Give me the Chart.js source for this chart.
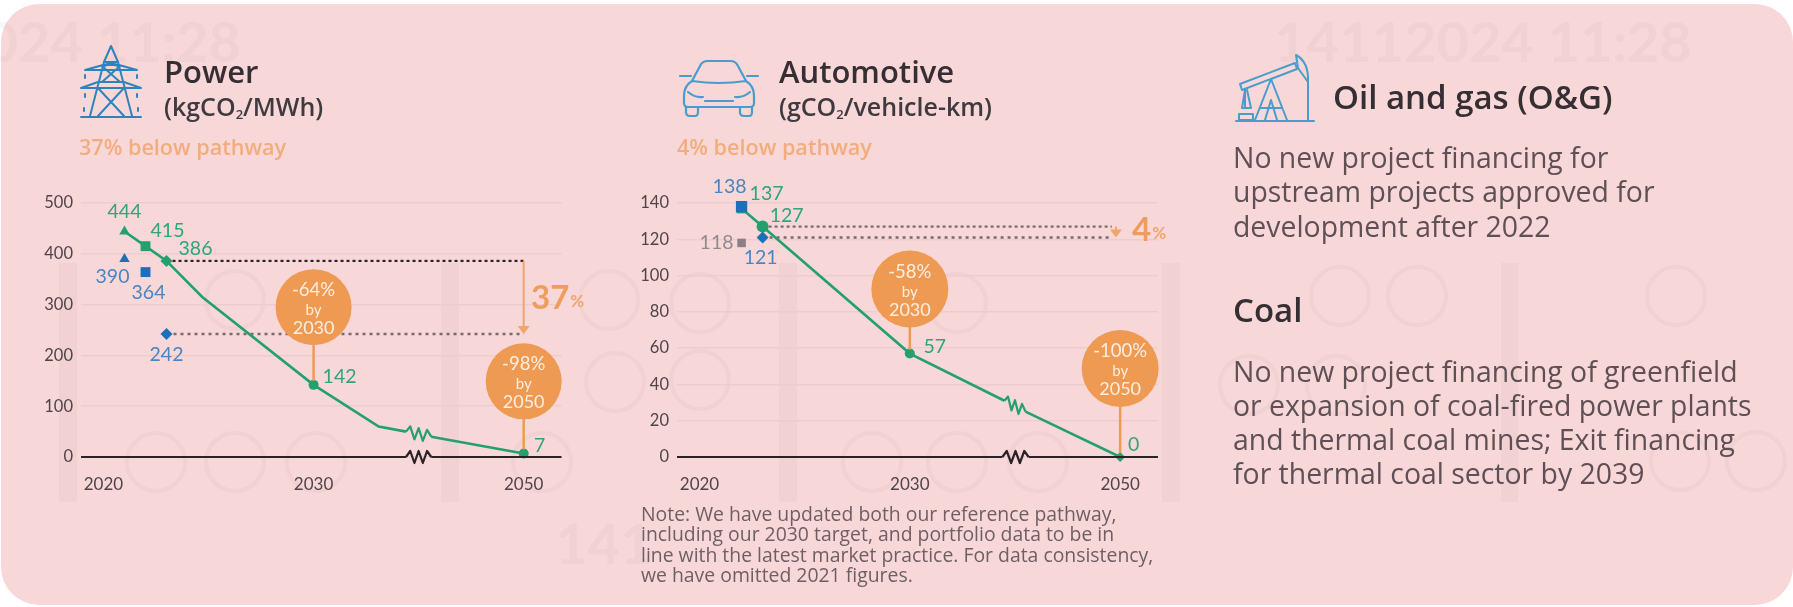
<!DOCTYPE html>
<html>
<head>
<meta charset="utf-8">
<title>Power and automotive pathways</title>
<script src="https://cdn.jsdelivr.net/npm/chart.js@4"></script>
<style>
html,body{margin:0;padding:0;background:#fff;}
body{width:1793px;height:607px;overflow:hidden;position:relative;font-family:"Open Sans",Lato,sans-serif;}
#card{position:absolute;left:1px;top:4px;width:1792px;height:601px;background:#f8d7d9;border-radius:38px;}
svg.layer{position:absolute;left:0;top:0;}
canvas{position:absolute;top:170px;}
.t{position:absolute;white-space:nowrap;transform:translateY(-50%);line-height:1;}
.head{color:#352e33;font-weight:600;font-size:31px;}
.unit{color:#3f3a40;font-weight:600;font-size:25px;}
.unit sub{font-size:13px;line-height:0;vertical-align:-3px;}
.below{color:#f1ad7d;font-weight:600;font-size:21.6px;}
.body{color:#5e5055;font-size:28.4px;}
.note{color:#6e5f63;font-size:19.4px;}
</style>
</head>
<body>
<div id="card"></div>

<!-- faint watermark behind everything -->
<svg class="layer" width="1793" height="607" fill="none" stroke="#7d6468" stroke-opacity="0.05" stroke-width="4">
  <g stroke="none" fill="#7d6468" fill-opacity="0.05">
    <rect x="59" y="263" width="18" height="239"/>
    <rect x="441" y="263" width="18" height="239"/>
    <rect x="779" y="263" width="18" height="239"/>
    <rect x="1162" y="263" width="18" height="239"/>
    <rect x="1501" y="263" width="17" height="239"/>
    <text x="241" y="62" text-anchor="end" font-family="Lato" font-weight="700" font-size="56">024 11:28</text>
    <text x="1274" y="62" font-family="Lato" font-weight="700" font-size="56">14112024 11:28</text>
    <text x="555" y="564" font-family="Lato" font-weight="700" font-size="56">141</text>
  </g>
  <circle cx="156" cy="462" r="29"/><circle cx="235" cy="462" r="29"/><circle cx="316" cy="462" r="29"/><circle cx="542" cy="462" r="29"/>
  <circle cx="235" cy="300" r="29"/><circle cx="609" cy="300" r="29"/><circle cx="615" cy="382" r="29"/>
  <circle cx="700" cy="303" r="29"/><circle cx="700" cy="380" r="29"/><circle cx="957" cy="303" r="29"/>
  <circle cx="872" cy="462" r="29"/><circle cx="957" cy="462" r="29"/><circle cx="1038" cy="462" r="29"/>
  <circle cx="1340" cy="296" r="29"/><circle cx="1417" cy="296" r="29"/><circle cx="1676" cy="296" r="29"/>
  <circle cx="1249" cy="385" r="29"/><circle cx="1336" cy="385" r="29"/><circle cx="1680" cy="461" r="29"/><circle cx="1756" cy="461" r="29"/>
</svg>

<canvas id="powerchart" width="600" height="330" style="left:0"></canvas>
<canvas id="autochart" width="620" height="330" style="left:596px"></canvas>

<!-- icons -->
<svg class="layer" width="1793" height="607" fill="none" stroke-linecap="round" stroke-linejoin="round">
  <g stroke="#2f83bd" stroke-width="2">
    <path d="M81 117H141"/>
    <path d="M111 46L104 62L90 116M111 46L118 62L132 116"/>
    <path d="M104 62H118M85 70L103 65H119L137 70M85 70H137M100 82L122 82M81 88H141M81 88L98 82M141 88L124 82"/>
    <path d="M102 66L120 82M120 66L102 82M98 88L124 116M124 88L98 116M104 62L118 66M118 62L104 66"/>
    <path d="M85 75v3M137 75v3M85 94v3M137 94v3M84 108v3M138 108v3"/>
  </g>
  <g stroke="#4a9ccc" stroke-width="2.2">
    <path d="M692 81L700 66Q702 61 708 61H730Q736 61 738 66L746 81"/>
    <path d="M692 81Q684 86 684 96V103Q684 107 688 107H750Q754 107 754 103V96Q754 86 746 81Q719 85 692 81Z"/>
    <path d="M691 76H680M747 76H758"/>
    <path d="M688 92Q695 98 703 97M750 92Q743 98 735 97M705 101H733"/>
    <path d="M686 107V112Q686 116 690 116H695Q698 116 698 112V107M740 107V112Q740 116 744 116H749Q752 116 752 112V107"/>
  </g>
  <g stroke="#4a9ccc" stroke-width="2">
    <path d="M1236 121H1314"/>
    <path d="M1240 84L1295 63L1297 69L1242 90Z"/>
    <path d="M1296 55Q1309 62 1308 82L1298 68Z"/>
    <path d="M1308 80V120M1245 90V108M1245 90L1242 108H1251L1247 90"/>
    <path d="M1255 120L1271 79M1287 120L1271 79M1260 108H1282M1265 120L1271 100L1277 120M1239 114h14v6h-14z"/>
  </g>
</svg>

<div class="t head" style="left:164px;top:71px">Power</div>
<div class="t unit" style="left:164px;top:106px">(kgCO<sub>2</sub>/MWh)</div>
<div class="t below" style="left:79px;top:147px">37% below pathway</div>

<div class="t head" style="left:779px;top:71px">Automotive</div>
<div class="t unit" style="left:779px;top:106px">(gCO<sub>2</sub>/vehicle-km)</div>
<div class="t below" style="left:677px;top:147px">4% below pathway</div>

<div class="t head" style="left:1333px;top:96px;font-size:33px">Oil and gas (O&amp;G)</div>
<div class="t body" style="left:1233px;top:157px">No new project financing for</div>
<div class="t body" style="left:1233px;top:191px">upstream projects approved for</div>
<div class="t body" style="left:1233px;top:226px">development after 2022</div>
<div class="t head" style="left:1233px;top:309px;font-size:33px">Coal</div>
<div class="t body" style="left:1233px;top:371px">No new project financing of greenfield</div>
<div class="t body" style="left:1233px;top:405px">or expansion of coal-fired power plants</div>
<div class="t body" style="left:1233px;top:439px">and thermal coal mines; Exit financing</div>
<div class="t body" style="left:1233px;top:473px">for thermal coal sector by 2039</div>

<div class="t note" style="left:641px;top:514px">Note: We have updated both our reference pathway,</div>
<div class="t note" style="left:641px;top:534px">including our 2030 target, and portfolio data to be in</div>
<div class="t note" style="left:641px;top:555px">line with the latest market practice. For data consistency,</div>
<div class="t note" style="left:641px;top:575px">we have omitted 2021 figures.</div>

<script>
// the axis is broken between 2030 and 2050, so 2050 sits at position 2040
var xTicks = [2020, 2030, 2040];
var xTickLabels = ["2020", "2030", "2050"];

var powerTicks = [0, 100, 200, 300, 400, 500];
var powerPathX = [2021, 2022, 2023, 2024.7, 2030, 2033.1, 2034.4, 2034.9, 2035.6, 2040];
var powerPathY = [444, 415, 386, 315, 142, 60, 50, null, 40, 7];
var powerPointX = [2021, 2022, 2023, 2030, 2040];
var powerPointY = [444, 415, 386, 142, 7];
var powerActualX = [2021, 2022, 2023];
var powerActualY = [390, 364, 242];
var powerGapY = [386, 242];
var powerGapLabel = "37";
var powerBubbleText = [["-64%", "by", "2030"], ["-98%", "by", "2050"]];

var autoTicks = [0, 20, 40, 60, 80, 100, 120, 140];
var autoPathX = [2022, 2023, 2030, 2034.5, 2034.9, 2035.5, 2040];
var autoPathY = [137, 127, 57, 31, null, 25, 0];
var autoPointX = [2022, 2023, 2030, 2040];
var autoPointY = [137, 127, 57, 0];
var autoActualX = [2022, 2023];
var autoActualY = [138, 121];
var autoOtherX = [2022];
var autoOtherY = [118];
var autoGapY = [127, 121];
var autoGapLabel = "4";
var autoBubbleText = [["-58%", "by", "2030"], ["-100%", "by", "2050"]];

var GREEN = "#23a06e";
var BLUE = "#1c70b8";
var GREY = "#8a7f83";
var ORANGE = "#ef9a52";
var LABELFONT = "Lato";

function xy(xs, ys){
    return xs.map(function(x, i){ return {x: x, y: ys[i]}; });
}
function zigzag(ctx, x0, y0, x1, y1, color){
    var n = 6, amp = 6;
    var dx = (x1 - x0) / n, dy = (y1 - y0) / n;
    ctx.save();
    ctx.strokeStyle = color;
    ctx.lineWidth = 2.2;
    ctx.lineJoin = "round";
    ctx.beginPath();
    ctx.moveTo(x0, y0);
    for(var i = 1; i < n; i++){
        ctx.lineTo(x0 + dx * i, y0 + dy * i + (i % 2 ? -amp : amp));
    }
    ctx.lineTo(x1, y1);
    ctx.stroke();
    ctx.restore();
}
function text(ctx, str, x, y, font, color, align){
    ctx.font = font;
    ctx.fillStyle = color;
    ctx.textAlign = align || "center";
    ctx.textBaseline = "middle";
    ctx.fillText(str, x, y);
}

// everything the library has no element for: axis with break, bubbles, gap arrow, value labels
var decorations = {
    id: "decorations",
    afterDatasetsDraw: function(chart, args, o){
        var ctx = chart.ctx;
        var sx = chart.scales.x, sy = chart.scales.y;
        var area = chart.chartArea;
        var y0 = sy.getPixelForValue(0);

        ctx.save();
        ctx.strokeStyle = "#2b2226";
        ctx.lineWidth = 2;
        ctx.beginPath();
        ctx.moveTo(area.left, y0);
        ctx.lineTo(sx.getPixelForValue(o.axisBreak[0]), y0);
        ctx.moveTo(sx.getPixelForValue(o.axisBreak[1]), y0);
        ctx.lineTo(area.right, y0);
        ctx.stroke();
        ctx.restore();
        zigzag(ctx, sx.getPixelForValue(o.axisBreak[0]), y0, sx.getPixelForValue(o.axisBreak[1]), y0, "#2b2226");
        zigzag(ctx, sx.getPixelForValue(o.pathBreak[0]), sy.getPixelForValue(o.pathBreak[1]),
            sx.getPixelForValue(o.pathBreak[2]), sy.getPixelForValue(o.pathBreak[3]), GREEN);

        // gap arrow
        var ax = sx.getPixelForValue(o.arrowX);
        var a0 = sy.getPixelForValue(o.gap[0]), a1 = sy.getPixelForValue(o.gap[1]);
        ctx.save();
        ctx.strokeStyle = "#f0a56c";
        ctx.fillStyle = "#f0a56c";
        ctx.lineWidth = 2;
        ctx.beginPath();
        ctx.moveTo(ax, a0);
        ctx.lineTo(ax, a1 - 3);
        ctx.stroke();
        ctx.beginPath();
        ctx.moveTo(ax - 6, a1 - 8);
        ctx.lineTo(ax + 6, a1 - 8);
        ctx.lineTo(ax, a1);
        ctx.closePath();
        ctx.fill();
        ctx.restore();
        text(ctx, o.gapLabel, o.gapPos[0], o.gapPos[1], "700 33px " + LABELFONT, "#ee9d5e", "left");
        var w = ctx.measureText(o.gapLabel).width;
        text(ctx, "%", o.gapPos[0] + w + 1, o.gapPos[1] + 4, "700 17px " + LABELFONT, "#f0a56c", "left");

        // bubbles with their stems
        o.bubbles.forEach(function(b){
            var bx = sx.getPixelForValue(b.x);
            var by = sy.getPixelForValue(b.y);
            ctx.save();
            ctx.strokeStyle = ORANGE;
            ctx.lineWidth = 2.5;
            ctx.beginPath();
            ctx.moveTo(bx, by);
            ctx.lineTo(bx, sy.getPixelForValue(b.to) - 4);
            ctx.stroke();
            ctx.fillStyle = ORANGE;
            ctx.beginPath();
            ctx.arc(bx, by, o.bubbleR, 0, Math.PI * 2);
            ctx.fill();
            ctx.restore();
            text(ctx, b.lines[0], bx, by - 17, "400 18.5px " + LABELFONT, "#fdeee2");
            text(ctx, b.lines[1], bx, by + 3, "400 15px " + LABELFONT, "#fdeee2");
            text(ctx, b.lines[2], bx, by + 21, "400 18px " + LABELFONT, "#fdeee2");
        });

        // value labels next to the markers
        o.labels.forEach(function(set){
            set.xs.forEach(function(x, i){
                text(ctx, String(set.ys[i]), sx.getPixelForValue(x) + set.offsets[i][0],
                    sy.getPixelForValue(set.ys[i]) + set.offsets[i][1], "400 19.5px " + LABELFONT, set.color);
            });
        });
    }
};

function makechart(id, c){
    var ctx = document.getElementById(id).getContext("2d");
    return new Chart(ctx, {
        type: "line",
        data: {
            datasets: [
                {
                    data: xy(c.pathX, c.pathY),
                    borderColor: GREEN,
                    borderWidth: 2.6,
                    pointRadius: 0,
                    spanGaps: false,
                    order: 2
                },
                {
                    data: xy(c.pointX, c.pointY),
                    showLine: false,
                    pointStyle: c.pointStyles,
                    pointRadius: c.pointSizes,
                    pointBackgroundColor: GREEN,
                    pointBorderWidth: 0,
                    clip: false,
                    order: 1
                },
                {
                    data: xy(c.actualX, c.actualY),
                    showLine: false,
                    pointStyle: c.actualStyles,
                    pointRadius: c.actualSizes,
                    pointBackgroundColor: BLUE,
                    pointBorderWidth: 0,
                    clip: false,
                    order: 0
                },
                {
                    data: xy(c.otherX, c.otherY),
                    showLine: false,
                    pointStyle: "rect",
                    pointRadius: 6,
                    pointBackgroundColor: GREY,
                    pointBorderWidth: 0,
                    order: 0
                },
                {
                    data: xy([c.dotFrom[0], c.dotTo], [c.gap[0], c.gap[0]]),
                    borderColor: c.dotColor,
                    borderWidth: 2.2,
                    borderDash: [3, 3],
                    pointRadius: 0,
                    order: 3
                },
                {
                    data: xy([c.dotFrom[1], c.dotTo], [c.gap[1], c.gap[1]]),
                    borderColor: "#7a6a6e",
                    borderWidth: 2.6,
                    borderDash: [3, 4],
                    pointRadius: 0,
                    order: 3
                }
            ]
        },
        plugins: [decorations],
        options: {
            responsive: false,
            animation: false,
            layout: {padding: {top: 33, right: c.padRight, left: 0, bottom: 0}},
            plugins: {
                legend: {display: false},
                tooltip: {enabled: false},
                decorations: c.deco
            },
            scales: {
                x: {
                    type: "linear",
                    min: 2018.93,
                    max: 2041.8,
                    afterBuildTicks: function(scale){
                        scale.ticks = xTicks.map(function(v){ return {value: v}; });
                    },
                    afterFit: function(scale){ scale.height = 43; },
                    grid: {display: false},
                    border: {display: false},
                    ticks: {
                        autoSkip: false,
                        maxRotation: 0,
                        padding: 9,
                        color: "#4f4549",
                        font: {family: LABELFONT, size: 17},
                        callback: function(v){ return xTickLabels[xTicks.indexOf(v)]; }
                    }
                },
                y: {
                    min: 0,
                    max: c.yTicks[c.yTicks.length - 1],
                    afterBuildTicks: function(scale){
                        scale.ticks = c.yTicks.map(function(v){ return {value: v}; });
                    },
                    afterFit: function(scale){ scale.width = 81; },
                    grid: {color: "#ebcdcf", lineWidth: 1.5, drawTicks: false},
                    border: {display: false},
                    ticks: {
                        padding: 8,
                        color: "#4f4549",
                        font: {family: LABELFONT, size: 16.5}
                    }
                }
            }
        }
    });
}

function drawall(){
    makechart("powerchart", {
        yTicks: powerTicks,
        padRight: 38.5,
        pathX: powerPathX, pathY: powerPathY,
        pointX: powerPointX, pointY: powerPointY,
        pointStyles: ["triangle", "rect", "rectRot", "circle", "circle"],
        pointSizes: [6, 7, 6, 5, 5],
        actualX: powerActualX, actualY: powerActualY,
        actualStyles: ["triangle", "rect", "rectRot"],
        actualSizes: [6, 7, 6],
        otherX: [], otherY: [],
        gap: powerGapY,
        dotFrom: [2023, 2023],
        dotTo: 2040,
        dotColor: "#2b2226",
        deco: {
            axisBreak: [2034.4, 2035.6],
            pathBreak: [2034.4, 50, 2035.6, 40],
            arrowX: 2040,
            gap: powerGapY,
            gapLabel: powerGapLabel,
            gapPos: [531, 128],
            bubbleR: 38,
            bubbles: [
                {x: 2030, y: 295, to: 142, lines: powerBubbleText[0]},
                {x: 2040, y: 149, to: 7, lines: powerBubbleText[1]}
            ],
            labels: [
                {xs: powerPointX, ys: powerPointY, color: "#2fa579",
                    offsets: [[0, -20], [22, -15], [29, -12], [26, -8], [16, -8]]},
                {xs: powerActualX, ys: powerActualY, color: "#4a85c2",
                    offsets: [[-12, 18], [3, 21], [0, 21]]}
            ]
        }
    });
    makechart("autochart", {
        yTicks: autoTicks,
        padRight: 58,
        pathX: autoPathX, pathY: autoPathY,
        pointX: autoPointX, pointY: autoPointY,
        pointStyles: ["rect", "circle", "circle", "rectRot"],
        pointSizes: [7, 6, 5, 5],
        actualX: autoActualX, actualY: autoActualY,
        actualStyles: ["rect", "rectRot"],
        actualSizes: [8, 6],
        otherX: autoOtherX, otherY: autoOtherY,
        gap: autoGapY,
        dotFrom: [2023, 2023],
        dotTo: 2039.6,
        dotColor: "#7a6a6e",
        deco: {
            axisBreak: [2034.4, 2035.65],
            pathBreak: [2034.5, 31, 2035.5, 25],
            arrowX: 2039.8,
            gap: autoGapY,
            gapLabel: autoGapLabel,
            gapPos: [536, 60],
            bubbleR: 38.5,
            bubbles: [
                {x: 2030, y: 92.6, to: 57, lines: autoBubbleText[0]},
                {x: 2040, y: 48.8, to: 0, lines: autoBubbleText[1]}
            ],
            labels: [
                {xs: autoPointX, ys: autoPointY, color: "#2fa579",
                    offsets: [[25, -15], [24, -11], [25, -7], [13.5, -12]]},
                {xs: autoActualX, ys: autoActualY, color: "#4a85c2",
                    offsets: [[-12, -20], [-2, 20]]},
                {xs: autoOtherX, ys: autoOtherY, color: "#94898c",
                    offsets: [[-25, 0]]}
            ]
        }
    });
}
if(document.fonts && document.fonts.load){
    Promise.all([document.fonts.load("16px Lato"), document.fonts.load("700 16px Lato")]).then(drawall, drawall);
}
else{
    drawall();
}
</script>
</body>
</html>
